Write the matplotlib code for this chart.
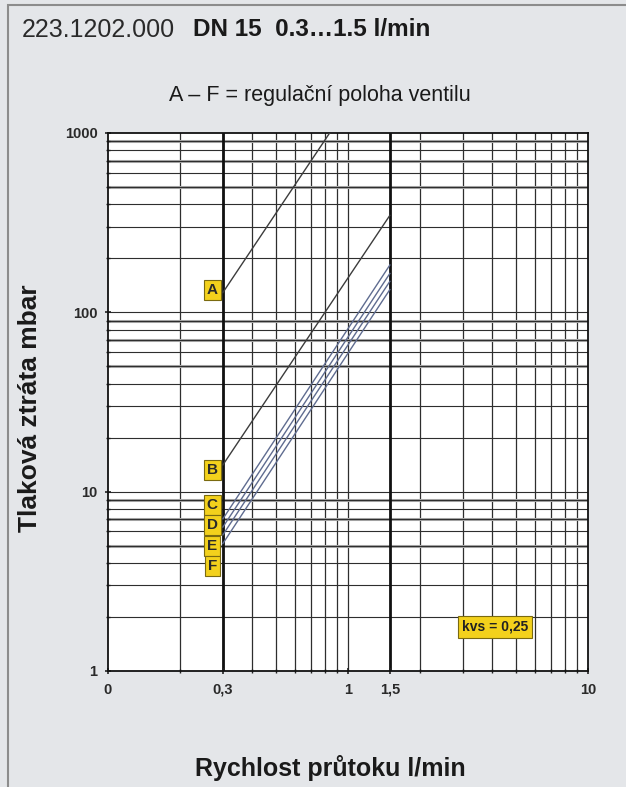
import matplotlib
matplotlib.use("Agg")
import matplotlib.pyplot as plt
import numpy as np
from matplotlib.patches import Rectangle

plt.rcParams['font.family'] = ['Liberation Sans', 'DejaVu Sans']

# ---------------- data ----------------
flow_range = [0.3, 1.5]                 # l/min, start and end of each characteristic
curve_names = ['A', 'B', 'C', 'D', 'E', 'F']
dp_at_start = [128, 14.0, 7.0, 6.3, 5.7, 5.1]   # mbar at 0.3 l/min
dp_at_end = [3200, 350, 185, 166, 150, 135]     # mbar at 1.5 l/min (quadratic law)
x_tick_vals = [0.1, 0.3, 1, 1.5, 10]
x_tick_labels = ['0', '0,3', '1', '1,5', '10']
y_tick_vals = [1, 10, 100, 1000]
y_tick_labels = ['1', '10', '100', '1000']
kvs_text = 'kvs = 0,25'

# ---------------- layout ----------------
W, H = 626, 787
fig = plt.figure(figsize=(W / 100, H / 100), dpi=100)
bg = '#e4e6e9'
fig.patch.set_facecolor(bg)
fig.patches.append(Rectangle((8 / W, -0.01), 1.05, (H - 5) / H + 0.01, transform=fig.transFigure,
                             facecolor='none', edgecolor='#8c8c8c', lw=1.5))

ax = fig.add_axes([108 / W, 1 - 671 / H, (588 - 108) / W, (671 - 133) / H])
ax.set_xscale('log')
ax.set_yscale('log')
ax.set_xlim(0.1, 10)
ax.set_ylim(1, 1000)
ax.set_facecolor('white')

# grid
dark = '#2e2e2e'
for dec in [0.1, 1]:
    for m in range(1, 10):
        xv = dec * m
        if 0.1 < xv < 10:
            ax.axvline(xv, color=dark, lw=0.9, zorder=1)
for dec in [1, 10, 100]:
    for m in range(1, 10):
        yv = dec * m
        if 1 < yv < 1000:
            if m in (9, 7, 5):
                ax.axhline(yv, color='#a9a9a9', lw=2.2, zorder=1)
            ax.axhline(yv, color=dark, lw=0.8, zorder=1)
for xv in flow_range:
    ax.axvline(xv, color='#111111', lw=2.0, zorder=1.5)

# characteristic lines
for i, name in enumerate(curve_names):
    col = '#3c3c3c' if i < 2 else '#5f6c90'
    ax.plot(flow_range, [dp_at_start[i], dp_at_end[i]], color=col, lw=1.0,
            zorder=3, solid_capstyle='butt')

# labels
label_y = [133, 13.2, 8.4, 6.5, 5.0, 3.85]
for name, ly in zip(curve_names, label_y):
    ax.text(0.272, ly, name, ha='center', va='center', fontsize=11, fontweight='bold',
            color='#2a2a2a', zorder=5,
            bbox=dict(boxstyle='square,pad=0.2', facecolor='#f3d11c',
                      edgecolor='#7a6a10', lw=0.8))

ax.text(0.807, 0.082, kvs_text, transform=ax.transAxes, ha='center', va='center',
        fontsize=10, fontweight='bold', color='#222222', zorder=5,
        bbox=dict(boxstyle='square,pad=0.28', facecolor='#f3d11c', edgecolor='#7a6a10', lw=0.8))

# axes styling
for s in ax.spines.values():
    s.set_color('#111111')
    s.set_linewidth(1.3)
ax.set_xticks(x_tick_vals)
ax.set_xticklabels(x_tick_labels, fontweight='bold')
ax.set_yticks(y_tick_vals)
ax.set_yticklabels(y_tick_labels, fontweight='bold')
ax.xaxis.set_minor_locator(matplotlib.ticker.LogLocator(subs=np.arange(2, 10)))
ax.yaxis.set_minor_locator(matplotlib.ticker.LogLocator(subs=np.arange(2, 10)))
ax.xaxis.set_minor_formatter(matplotlib.ticker.NullFormatter())
ax.yaxis.set_minor_formatter(matplotlib.ticker.NullFormatter())
ax.tick_params(which='major', length=5, width=1.2, color='#222222', labelsize=10.5, labelcolor='#2a2a2a')
ax.tick_params(which='minor', length=3, width=1.0, color='#222222')
ax.tick_params(axis='x', which='both', direction='inout', pad=6)
ax.tick_params(axis='y', which='both', direction='inout', pad=5)

# texts
fig.text(22 / W, 1 - 30 / H, '223.1202.000', fontsize=18, color='#2a2a2a', va='center', ha='left')
fig.text(193 / W, 1 - 30 / H, 'DN 15  0.3\u20261.5 l/min', fontsize=17.5, fontweight='bold',
         color='#1a1a1a', va='center', ha='left')
fig.text(320 / W, 1 - 96 / H, 'A \u2013 F = regulační poloha ventilu', fontsize=15.5,
         color='#1a1a1a', va='center', ha='center')
fig.text(30 / W, 1 - 408 / H, 'Tlaková ztráta mbar', fontsize=19, fontweight='bold',
         rotation=90, color='#1a1a1a', va='center', ha='center')
fig.text(330 / W, 1 - 768 / H, 'Rychlost průtoku l/min', fontsize=18, fontweight='bold',
         color='#1a1a1a', va='center', ha='center')

fig.savefig('out.png', dpi=100, facecolor=fig.get_facecolor())
